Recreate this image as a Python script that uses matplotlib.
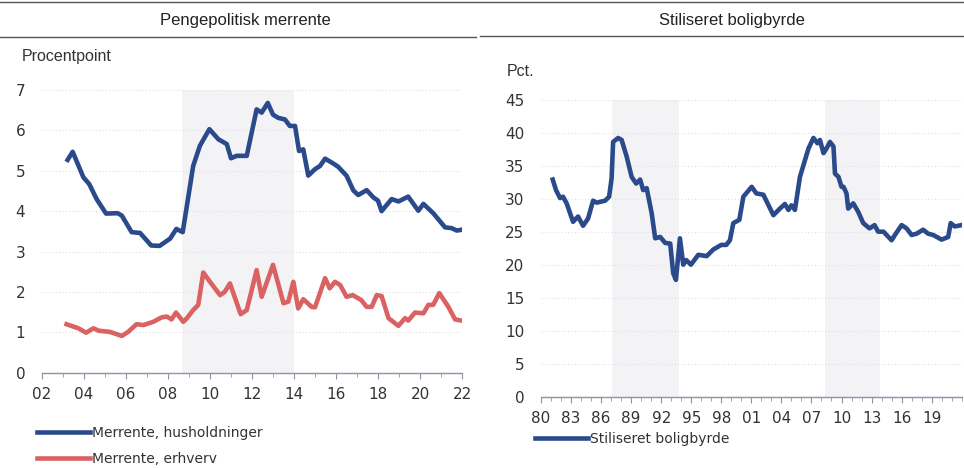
import matplotlib.pyplot as plt
from matplotlib.lines import Line2D
from matplotlib.ticker import MultipleLocator, FixedLocator, FuncFormatter

plt.rcParams['font.family'] = ['DejaVu Sans']

# Pengepolitisk merrente (procentpoint)
hus_x = [2003.22, 2003.46, 2003.97, 2004.25, 2004.6, 2005.05, 2005.6, 2005.8, 2006.27, 2006.67,
         2007.2, 2007.6, 2008.1, 2008.4, 2008.7, 2009.2, 2009.52, 2009.97, 2010.4, 2010.8,
         2011.0, 2011.27, 2011.75, 2012.22, 2012.46, 2012.75, 2013.0, 2013.25, 2013.57, 2013.8,
         2014.05, 2014.24, 2014.44, 2014.68, 2015.0, 2015.24, 2015.48, 2015.87, 2016.1, 2016.5,
         2016.83, 2017.06, 2017.46, 2017.78, 2018.0, 2018.17, 2018.65, 2018.97, 2019.44, 2019.92,
         2020.16, 2020.63, 2021.19, 2021.5, 2021.75, 2021.98]
hus_y = [5.27, 5.47, 4.84, 4.67, 4.30, 3.94, 3.95, 3.89, 3.48, 3.46,
         3.15, 3.14, 3.32, 3.56, 3.48, 5.12, 5.62, 6.03, 5.78, 5.66,
         5.31, 5.37, 5.37, 6.52, 6.44, 6.68, 6.39, 6.31, 6.27, 6.11,
         6.11, 5.49, 5.53, 4.88, 5.04, 5.12, 5.30, 5.18, 5.10, 4.88,
         4.51, 4.40, 4.52, 4.34, 4.26, 4.00, 4.30, 4.24, 4.36, 4.01,
         4.18, 3.95, 3.60, 3.58, 3.52, 3.54]

erh_x = [2003.17, 2003.73, 2004.1, 2004.45, 2004.7, 2005.24, 2005.8, 2006.1, 2006.5, 2006.83,
         2007.3, 2007.7, 2007.94, 2008.17, 2008.38, 2008.73, 2008.9, 2009.2, 2009.44, 2009.68,
         2010.0, 2010.48, 2010.7, 2010.95, 2011.46, 2011.75, 2012.22, 2012.46, 2013.0, 2013.5,
         2013.73, 2013.97, 2014.2, 2014.44, 2014.84, 2015.0, 2015.48, 2015.7, 2015.95, 2016.2,
         2016.5, 2016.8, 2017.2, 2017.46, 2017.7, 2017.94, 2018.17, 2018.5, 2018.97, 2019.29,
         2019.44, 2019.76, 2020.16, 2020.4, 2020.63, 2020.92, 2021.35, 2021.67, 2021.98]
erh_y = [1.20, 1.10, 0.99, 1.10, 1.04, 1.01, 0.91, 1.01, 1.20, 1.18,
         1.26, 1.37, 1.39, 1.32, 1.49, 1.26, 1.35, 1.55, 1.68, 2.48,
         2.25, 1.92, 2.00, 2.21, 1.45, 1.55, 2.54, 1.88, 2.67, 1.72,
         1.76, 2.25, 1.59, 1.82, 1.63, 1.62, 2.34, 2.09, 2.25, 2.17,
         1.88, 1.92, 1.80, 1.63, 1.63, 1.92, 1.90, 1.35, 1.16, 1.35,
         1.29, 1.49, 1.47, 1.68, 1.68, 1.97, 1.63, 1.32, 1.29]

# Stiliseret boligbyrde (pct.)
bol_x = [1981.17, 1981.5, 1981.9, 1982.2, 1982.56, 1983.2, 1983.7, 1984.2, 1984.7, 1985.2,
         1985.56, 1986.4, 1986.8, 1987.05, 1987.2, 1987.7, 1988.05, 1988.55, 1989.05, 1989.5,
         1989.9, 1990.2, 1990.55, 1991.05, 1991.4, 1991.9, 1992.4, 1992.9, 1993.2, 1993.47,
         1993.87, 1994.2, 1994.5, 1994.97, 1995.7, 1996.54, 1997.2, 1998.0, 1998.5, 1998.86,
         1999.2, 1999.8, 2000.2, 2001.03, 2001.5, 2002.2, 2003.2, 2003.85, 2004.35, 2004.7,
         2005.0, 2005.35, 2005.85, 2006.7, 2007.2, 2007.6, 2007.85, 2008.2, 2008.5, 2008.85,
         2009.2, 2009.35, 2009.7, 2010.0, 2010.2, 2010.5, 2010.67, 2011.17, 2011.67, 2012.17,
         2012.8, 2013.3, 2013.66, 2014.2, 2014.5, 2015.0, 2015.33, 2016.0, 2016.5, 2017.0,
         2017.5, 2018.15, 2018.65, 2019.15, 2020.0, 2020.65, 2020.9, 2021.3, 2022.0]
bol_y = [32.9, 31.3, 30.1, 30.3, 29.3, 26.5, 27.3, 25.9, 27.0, 29.7,
         29.4, 29.7, 30.3, 33.1, 38.6, 39.2, 38.9, 36.4, 33.3, 32.3,
         32.9, 31.3, 31.6, 27.8, 24.0, 24.2, 23.3, 23.2, 18.7, 17.7,
         24.0, 20.0, 20.7, 20.0, 21.5, 21.3, 22.3, 23.0, 23.0, 23.7,
         26.3, 26.8, 30.3, 31.8, 30.8, 30.6, 27.5, 28.5, 29.2, 28.3,
         29.0, 28.3, 33.3, 37.6, 39.2, 38.4, 38.9, 36.9, 37.6, 38.6,
         37.9, 33.8, 33.3, 31.8, 31.8, 30.8, 28.5, 29.3, 28.0, 26.3,
         25.5, 26.0, 25.0, 25.0, 24.5, 23.7, 24.5, 26.0, 25.5, 24.5,
         24.7, 25.3, 24.7, 24.5, 23.8, 24.2, 26.3, 25.8, 26.0]

left_years = list(range(2002, 2023, 2))
right_years = list(range(1980, 2020, 3))

left_shade = [(2008.67, 2014.0)]
right_shade = [(1987.1, 1993.8), (2008.4, 2013.8)]

BLUE = '#2a4a8c'
RED = '#db6262'
TXT = '#333333'
SHADE = '#f3f3f6'

fig = plt.figure(figsize=(9.64, 4.68), dpi=100)
W, H = 964.0, 468.0


def style(ax):
    for s in ['top', 'right', 'left']:
        ax.spines[s].set_visible(False)
    ax.spines['bottom'].set_color('#8c94ac')
    ax.spines['bottom'].set_linewidth(1.0)
    ax.tick_params(axis='y', length=0, pad=12, labelsize=11, labelcolor=TXT)
    ax.tick_params(axis='x', which='both', direction='out', color='#8c94ac',
                   labelsize=11, labelcolor=TXT, pad=6)
    ax.tick_params(axis='x', which='major', length=4)
    ax.tick_params(axis='x', which='minor', length=3)
    ax.grid(axis='y', color='#e0e0e4', linestyle=(0, (1, 2)), linewidth=0.8)
    ax.set_axisbelow(True)


# left panel
ax1 = fig.add_axes([42 / W, 1 - 372.7 / H, 420 / W, 282.7 / H])
for a, b in left_shade:
    ax1.axvspan(a, b, color=SHADE, lw=0, zorder=0)
l1, = ax1.plot(hus_x, hus_y, color=BLUE, lw=3.3, solid_joinstyle='round')
l2, = ax1.plot(erh_x, erh_y, color=RED, lw=3.3, solid_joinstyle='round')
ax1.set_xlim(2002, 2022)
ax1.set_ylim(0, 7)
ax1.xaxis.set_major_locator(FixedLocator(left_years))
ax1.xaxis.set_minor_locator(MultipleLocator(1))
ax1.xaxis.set_major_formatter(FuncFormatter(lambda v, p: f"{int(round(v)) % 100:02d}"))
ax1.yaxis.set_major_locator(MultipleLocator(1))
style(ax1)

# right panel
ax2 = fig.add_axes([541 / W, 1 - 396.7 / H, 420.7 / W, 297 / H])
for a, b in right_shade:
    ax2.axvspan(a, b, color=SHADE, lw=0, zorder=0)
l3, = ax2.plot(bol_x, bol_y, color=BLUE, lw=3.3, solid_joinstyle='round')
ax2.set_xlim(1980, 2022)
ax2.set_ylim(0, 45)
ax2.xaxis.set_major_locator(FixedLocator(right_years))
ax2.xaxis.set_minor_locator(MultipleLocator(1))
ax2.xaxis.set_major_formatter(FuncFormatter(lambda v, p: f"{int(round(v)) % 100:02d}"))
ax2.yaxis.set_major_locator(MultipleLocator(5))
style(ax2)

# header rules and titles
fig.add_artist(Line2D([0, 1], [1 - 1.5 / H] * 2, color='#555555', lw=1.0))
fig.add_artist(Line2D([0, 476 / W], [1 - 36.5 / H] * 2, color='#555555', lw=1.0))
fig.add_artist(Line2D([480 / W, 963 / W], [1 - 35.5 / H] * 2, color='#555555', lw=1.0))
fig.text(245 / W, 1 - 20 / H, 'Pengepolitisk merrente', ha='center', va='center',
         fontsize=12, family='Liberation Sans', color='#222222')
fig.text(732 / W, 1 - 20 / H, 'Stiliseret boligbyrde', ha='center', va='center',
         fontsize=12, family='Liberation Sans', color='#222222')
fig.text(22 / W, 1 - 57 / H, 'Procentpoint', ha='left', va='center',
         fontsize=11.5, family='Liberation Sans', color=TXT)
fig.text(507 / W, 1 - 72 / H, 'Pct.', ha='left', va='center',
         fontsize=11.5, family='Liberation Sans', color=TXT)

# legends
leg_kw = dict(loc='upper left', frameon=False, handlelength=3.8, handletextpad=0.15,
              borderpad=0, borderaxespad=0, labelcolor=TXT,
              prop={'family': 'DejaVu Sans', 'size': 10})
fig.legend([l1, l2], ['Merrente, husholdninger', 'Merrente, erhverv'],
           bbox_to_anchor=(37 / W, 1 - 426 / H), labelspacing=0.85, **leg_kw)
fig.legend([l3], ['Stiliseret boligbyrde'],
           bbox_to_anchor=(535 / W, 1 - 432 / H), **leg_kw)

fig.savefig('out.png', dpi=100)
